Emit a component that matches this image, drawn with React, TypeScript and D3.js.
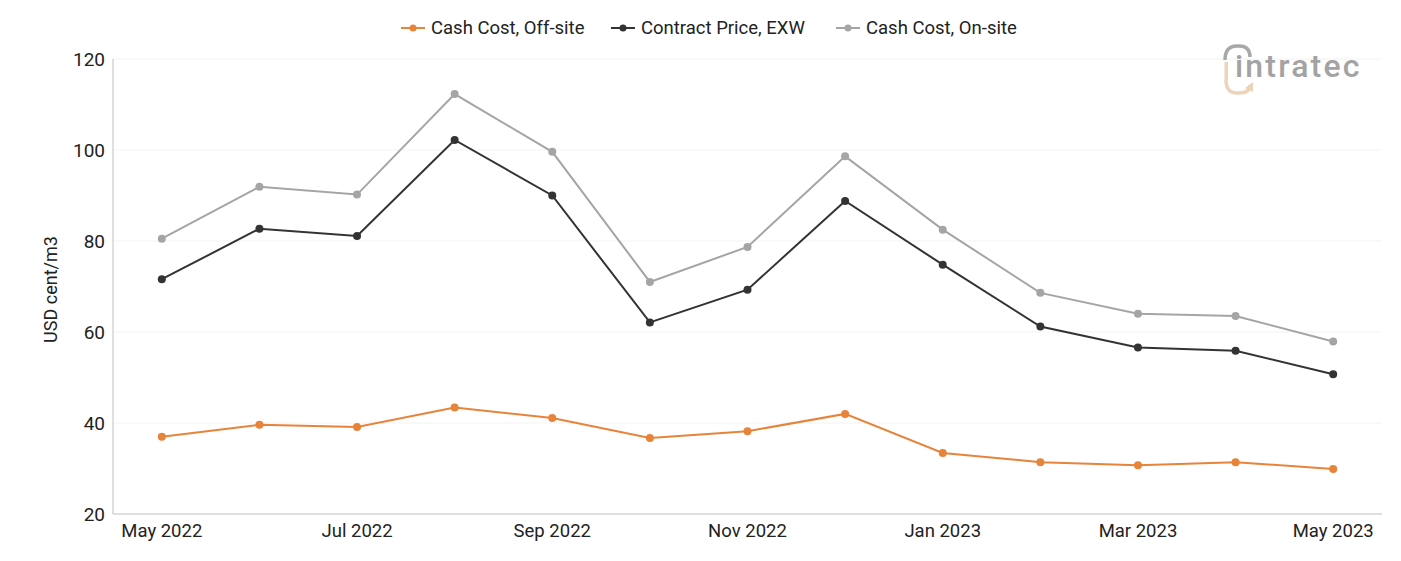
import React from "react";
import * as d3 from "d3";

const months = ["May 2022", "Jun 2022", "Jul 2022", "Aug 2022", "Sep 2022", "Oct 2022", "Nov 2022", "Dec 2022", "Jan 2023", "Feb 2023", "Mar 2023", "Apr 2023", "May 2023"];
const tickMonths = ["May 2022", "Jul 2022", "Sep 2022", "Nov 2022", "Jan 2023", "Mar 2023", "May 2023"];
const yTicks = [20, 40, 60, 80, 100, 120];

const offSite = [37.0, 39.6, 39.1, 43.4, 41.1, 36.7, 38.2, 42.0, 33.4, 31.4, 30.7, 31.4, 29.9];
const contract = [71.6, 82.7, 81.1, 102.2, 90.0, 62.1, 69.3, 88.8, 74.8, 61.2, 56.6, 55.9, 50.7];
const onSite = [80.5, 91.9, 90.2, 112.3, 99.6, 71.0, 78.7, 98.6, 82.5, 68.6, 64.0, 63.5, 57.9];

const seriesNames = ["Cash Cost, Off-site", "Contract Price, EXW", "Cash Cost, On-site"];
const seriesColors = ["#e8833a", "#333333", "#a5a5a5"];

const width = 1401,
	height = 561;
const margin = { top: 59, right: 19, bottom: 47, left: 113 };
const font = "Roboto, sans-serif";

export default function App() {
	const x = d3
		.scaleBand()
		.domain(months)
		.range([margin.left, width - margin.right]);
	const y = d3
		.scaleLinear()
		.domain([20, 120])
		.range([height - margin.bottom, margin.top]);

	const cx = (m) => x(m) + x.bandwidth() / 2;
	const line = d3
		.line()
		.x((d) => d[0])
		.y((d) => d[1]);

	const allSeries = [offSite, contract, onSite];
	// gray at the back, orange on top
	const drawOrder = [2, 1, 0];

	// where each legend label starts
	const legendText = [431, 641, 866];

	return (
		<svg width={width} height={height} style={{ position: "absolute", left: 0, top: 0 }} fontFamily={font}>
			{/* grid */}
			{yTicks.slice(1).map((t) => (
				<line key={t} x1={margin.left} x2={width - margin.right} y1={y(t)} y2={y(t)} stroke="#f3f3f3" strokeWidth={1} />
			))}
			{/* axes */}
			<line x1={margin.left} x2={margin.left} y1={margin.top} y2={y(20)} stroke="#bfbfbf" />
			<line x1={margin.left} x2={width - margin.right} y1={y(20)} y2={y(20)} stroke="#bfbfbf" />
			{yTicks.map((t) => (
				<text key={t} x={margin.left - 8} y={y(t)} dy="0.35em" textAnchor="end" fontSize={19} fill="#222">
					{t}
				</text>
			))}
			{tickMonths.map((m) => (
				<text key={m} x={cx(m)} y={y(20) + 23} textAnchor="middle" fontSize={18.5} fill="#222">
					{m}
				</text>
			))}
			<text transform={`translate(57 ${(margin.top + y(20)) / 2 + 3}) rotate(-90)`} textAnchor="middle" fontSize={18} fill="#222">
				USD cent/m3
			</text>

			{/* logo */}
			<g>
				<path d="M1225 60 Q1225 46 1237 46 L1239 46 Q1250 46 1250 57" fill="none" stroke="#a8a8a8" strokeWidth={3.5} />
				<path d="M1226 80 Q1226 93 1237 93 L1239 93 Q1250 93 1250 85" fill="none" stroke="#ecd4bb" strokeWidth={3.5} />
				<path d="M1245 88 L1253 82 L1253 92 Z" fill="#ecd4bb" />
				<rect x={1224.5} y={62} width={3.5} height={18} fill="#ecd4bb" />
				<text x={1235} y={77} fontSize={32} fill="#a3a3a3" fontWeight={500} letterSpacing={2.2}>
					intratec
				</text>
			</g>

			{/* series */}
			{drawOrder.map((si) => {
				const pts = months.map((m, i) => [cx(m), y(allSeries[si][i])]);
				return (
					<g key={si}>
						<path d={line(pts)} fill="none" stroke={seriesColors[si]} strokeWidth={2} />
						{pts.map((p, i) => (
							<circle key={i} cx={p[0]} cy={p[1]} r={4} fill={seriesColors[si]} />
						))}
					</g>
				);
			})}

			{/* legend */}
			{seriesNames.map((n, i) => (
				<g key={n} transform={`translate(${legendText[i] - 30} 28)`}>
					<line x1={0} x2={24} y1={0} y2={0} stroke={seriesColors[i]} strokeWidth={2} />
					<circle cx={12} cy={0} r={3.5} fill={seriesColors[i]} />
					<text x={30} y={0} dy="0.35em" fontSize={18.5} fill="#222">
						{n}
					</text>
				</g>
			))}
		</svg>
	);
}
